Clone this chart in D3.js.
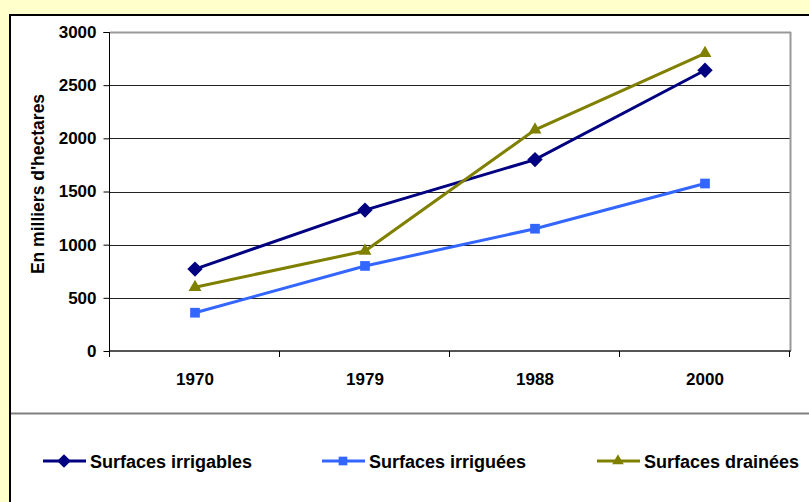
<!DOCTYPE html>
<html>
<head>
<meta charset="utf-8">
<script src="https://cdn.jsdelivr.net/npm/d3@7"></script>
<style>
  html, body { margin: 0; padding: 0; background: #FFFFCC; }
  svg { display: block; }
  text { font-family: "Liberation Sans", Arial, sans-serif; font-weight: bold; fill: #000; }
</style>
</head>
<body>
<script>
// Surfaces agricoles (en milliers d'hectares)
const years = ["1970", "1979", "1988", "2000"];
const irrigables = [770, 1325, 1800, 2640];
const irriguees = [360, 800, 1150, 1575];
const drainees = [600, 940, 2080, 2800];
const yTicks = [0, 500, 1000, 1500, 2000, 2500, 3000];

const series = [
  { name: "Surfaces irrigables", values: irrigables, color: "#000080", shape: "diamond" },
  { name: "Surfaces irriguées", values: irriguees, color: "#3366FF", shape: "square" },
  { name: "Surfaces drainées", values: drainees, color: "#808000", shape: "triangle" }
];

const W = 809, H = 502;
const svg = d3.select("body").append("svg").attr("width", W).attr("height", H);

// white chart panel with black left/top edge
svg.append("rect").attr("x", 10).attr("y", 15).attr("width", W).attr("height", H).attr("fill", "#fff");
svg.append("line").attr("x1", 10).attr("x2", 10).attr("y1", 14).attr("y2", H).attr("stroke", "#000").attr("stroke-width", 2);
svg.append("line").attr("x1", 9).attr("x2", W).attr("y1", 15).attr("y2", 15).attr("stroke", "#000").attr("stroke-width", 2);

const plot = { left: 110, right: 790, top: 32, bottom: 351 };

const x = d3.scaleBand().domain(years).range([plot.left, plot.right]).padding(0);
const y = d3.scaleLinear().domain([0, 3000]).range([plot.bottom, plot.top]);

// horizontal gridlines
svg.append("g").selectAll("line").data(yTicks.filter(v => v > 0 && v < 3000)).join("line")
  .attr("x1", plot.left).attr("x2", plot.right)
  .attr("y1", d => Math.round(y(d)) + 0.5).attr("y2", d => Math.round(y(d)) + 0.5)
  .attr("stroke", "#222").attr("stroke-width", 1);

// top and right plot frame
svg.append("line").attr("x1", plot.left).attr("x2", plot.right + 1)
  .attr("y1", y(3000) + 0.5).attr("y2", y(3000) + 0.5).attr("stroke", "#999").attr("stroke-width", 2);
svg.append("line").attr("x1", plot.right + 0.5).attr("x2", plot.right + 0.5)
  .attr("y1", plot.top).attr("y2", plot.bottom).attr("stroke", "#999").attr("stroke-width", 2);

// y axis
const yAxis = svg.append("g").attr("transform", `translate(${plot.left - 0.5},0)`)
  .call(d3.axisLeft(y).tickValues(yTicks).tickSize(6).tickPadding(7).tickFormat(d3.format("d")));
yAxis.select(".domain").attr("stroke", "#000").attr("d", `M-6,${plot.top + 0.5}H0V${plot.bottom}`);
yAxis.selectAll(".tick line").attr("stroke", "#000");
yAxis.selectAll("text").style("font-size", "17px").attr("font-family", null);

// x axis with tick marks at category boundaries
const xAxis = svg.append("g").attr("transform", `translate(0,${plot.bottom})`);
xAxis.append("line").attr("x1", plot.left).attr("x2", plot.right + 1)
  .attr("y1", 0).attr("y2", 0).attr("stroke", "#555").attr("stroke-width", 2);
const bounds = years.map(d => x(d)).concat([plot.right]);
xAxis.selectAll(".bt").data(bounds).join("line").attr("class", "bt")
  .attr("x1", d => d - 0.5).attr("x2", d => d - 0.5).attr("y1", 0).attr("y2", 6)
  .attr("stroke", "#000");
xAxis.selectAll(".xl").data(years).join("text").attr("class", "xl")
  .attr("x", d => x(d) + x.bandwidth() / 2).attr("y", 34)
  .attr("text-anchor", "middle").style("font-size", "17px").text(d => d);

// y axis title
svg.append("text").attr("transform", `translate(44,184) rotate(-90)`)
  .attr("text-anchor", "middle").style("font-size", "17.5px").text("En milliers d'hectares");

// divider above legend
svg.append("line").attr("x1", 11).attr("x2", W).attr("y1", 413.5).attr("y2", 413.5)
  .attr("stroke", "#808080").attr("stroke-width", 2);

const symbolFor = shape => shape === "diamond" ? d3.symbolDiamond2
  : shape === "square" ? d3.symbolSquare2 : d3.symbolTriangle2;
const symbolSize = { diamond: 150, square: 120, triangle: 120 };

const line = d3.line().x((d, i) => x(years[i]) + x.bandwidth() / 2).y(d => y(d));

series.forEach(s => {
  svg.append("path").datum(s.values).attr("d", line)
    .attr("fill", "none").attr("stroke", s.color).attr("stroke-width", 3);
  svg.append("g").selectAll("path").data(s.values).join("path")
    .attr("transform", (d, i) => `translate(${x(years[i]) + x.bandwidth() / 2},${y(d)})`)
    .attr("d", d3.symbol(symbolFor(s.shape), symbolSize[s.shape])())
    .attr("fill", s.color);
});

// legend
const legendX = [43, 322, 597];
const legendY = 461;
series.forEach((s, i) => {
  const g = svg.append("g").attr("transform", `translate(${legendX[i]},${legendY})`);
  g.append("line").attr("x1", 0).attr("x2", 43).attr("y1", 0).attr("y2", 0)
    .attr("stroke", s.color).attr("stroke-width", 3);
  g.append("path").attr("transform", "translate(21,0)")
    .attr("d", d3.symbol(symbolFor(s.shape), symbolSize[s.shape] * 0.8)()).attr("fill", s.color);
  g.append("text").attr("x", 47).attr("y", 7).style("font-size", "18px").text(s.name);
});
</script>
</body>
</html>
